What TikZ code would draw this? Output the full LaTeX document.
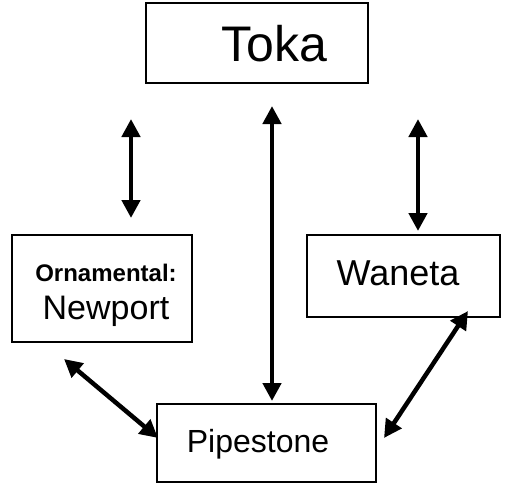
\documentclass[tikz,border=0pt]{standalone}
\usepackage{fontspec}
\setmainfont{Liberation Sans}
\usetikzlibrary{arrows.meta}
\begin{document}
\begin{tikzpicture}[x=1pt,y=-1pt,
  box/.style={draw,line width=1.4pt,inner sep=0pt},
  txt/.style={inner sep=0pt,anchor=base},
  dbl/.style={line width=4.5pt,{Triangle[width=18pt,length=18pt]}-{Triangle[width=18pt,length=18pt]}}]
\useasboundingbox (0,0) rectangle (506,483);
% boxes
\node[box,minimum width=222pt,minimum height=80pt] (toka) at (257,43) {};
\node[box,minimum width=180pt,minimum height=107pt] (orn) at (102,288.5) {};
\node[box,minimum width=193pt,minimum height=82pt] (wan) at (403.5,276) {};
\node[box,minimum width=219pt,minimum height=78pt] (pip) at (266.5,443) {};
% texts
\node[txt,font=\fontsize{50}{56}\selectfont] (tokat) at (274,61) {Toka};
\node[txt,font=\fontsize{24}{28}\selectfont\bfseries] (ornt) at (106,281) {Ornamental:};
\node[txt,font=\fontsize{34}{38}\selectfont] (newt) at (106,319) {Newport};
\node[txt,font=\fontsize{36}{40}\selectfont] (want) at (398,285) {Waneta};
\node[txt,font=\fontsize{32}{36}\selectfont] (pipt) at (258,452) {Pipestone};
% arrow ends
\coordinate (a1) at (131,119); \coordinate (a2) at (131,218);
\coordinate (b1) at (272,106); \coordinate (b2) at (272,401);
\coordinate (c1) at (418,119); \coordinate (c2) at (418,231);
\coordinate (d1) at (64,359); \coordinate (d2) at (158,438);
\coordinate (e1) at (468,311); \coordinate (e2) at (384,438);
\draw[dbl] (a1) -- (a2);
\draw[dbl] (b1) -- (b2);
\draw[dbl] (c1) -- (c2);
\draw[dbl] (d1) -- (d2);
\draw[dbl] (e1) -- (e2);
\end{tikzpicture}
\end{document}
